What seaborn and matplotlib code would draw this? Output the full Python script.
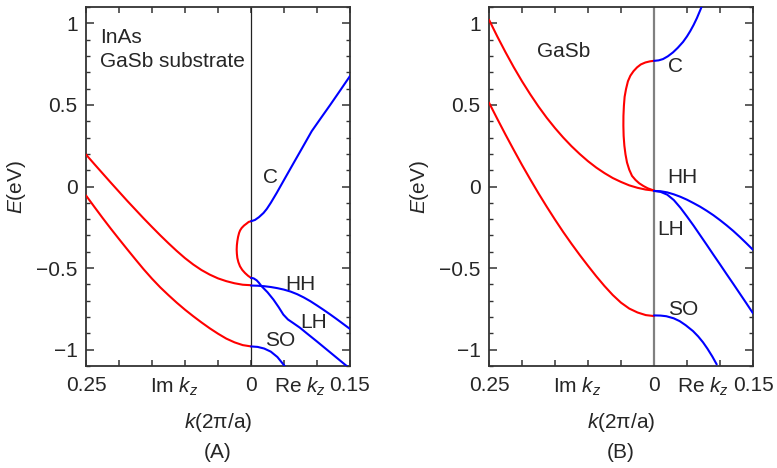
import matplotlib
matplotlib.use("Agg")
import matplotlib.pyplot as plt
import pandas as pd
import seaborn as sns
from matplotlib.ticker import FixedLocator, FixedFormatter, MultipleLocator

# ---------------- data: complex band structure E(k) ----------------
# k < 0 stands for Im k_z (evanescent branches), k > 0 for Re k_z.

# (A) InAs on GaSb substrate
a_im_upper_k = [-0.25, -0.2375, -0.225, -0.2125, -0.2, -0.1875, -0.175, -0.1625, -0.15, -0.1375,
                -0.125, -0.1125, -0.1, -0.0875, -0.075, -0.0625, -0.05, -0.0375, -0.025, -0.0125, 0.0]
a_im_upper_E = [0.196, 0.138, 0.081, 0.024, -0.032, -0.088, -0.142, -0.196, -0.248, -0.299,
                -0.348, -0.395, -0.439, -0.478, -0.512, -0.540, -0.563, -0.580, -0.593, -0.602, -0.605]

a_im_lower_k = [-0.25, -0.2375, -0.225, -0.2125, -0.2, -0.1875, -0.175, -0.1625, -0.15, -0.1375,
                -0.125, -0.1125, -0.1, -0.0875, -0.075, -0.0625, -0.05, -0.0375, -0.025, -0.0125, 0.0]
a_im_lower_E = [-0.055, -0.124, -0.192, -0.258, -0.322, -0.385, -0.447, -0.508, -0.565, -0.618,
                -0.666, -0.712, -0.755, -0.795, -0.833, -0.869, -0.902, -0.932, -0.955, -0.972, -0.98]

a_loop_k = [0.0, -0.0035, -0.0066, -0.0105, -0.0141, -0.0165, -0.018, -0.0196, -0.0207, -0.0214,
            -0.0217, -0.0214, -0.0207, -0.0191, -0.0167, -0.0133, -0.0091, -0.0045, 0.0]
a_loop_E = [-0.213, -0.217, -0.227, -0.239, -0.254, -0.269, -0.284, -0.309, -0.335, -0.36,
            -0.386, -0.412, -0.438, -0.464, -0.489, -0.511, -0.530, -0.547, -0.560]

a_c_k = [0.0, 0.006, 0.012, 0.019, 0.024, 0.03, 0.039, 0.05, 0.065, 0.077, 0.092, 0.106, 0.12, 0.135, 0.15]
a_c_E = [-0.213, -0.205, -0.188, -0.162, -0.137, -0.10, -0.039, 0.04, 0.147, 0.232, 0.339, 0.42, 0.50, 0.588, 0.677]

a_hh_k = [0.0, 0.01, 0.02, 0.03, 0.04, 0.05, 0.06, 0.07, 0.08, 0.09, 0.1, 0.11, 0.12, 0.13, 0.14, 0.15]
a_hh_E = [-0.607, -0.608, -0.611, -0.616, -0.623, -0.632, -0.644, -0.660, -0.680, -0.703,
          -0.729, -0.756, -0.784, -0.813, -0.843, -0.873]

a_lh_k = [0.0, 0.004, 0.0086, 0.012, 0.016, 0.025, 0.034, 0.042, 0.049, 0.056, 0.064,
          0.074, 0.084, 0.1, 0.115, 0.13, 0.145, 0.15]
a_lh_E = [-0.56, -0.563, -0.575, -0.59, -0.611, -0.648, -0.693, -0.74, -0.785, -0.815, -0.837,
          -0.865, -0.898, -0.95, -1.0, -1.05, -1.10, -1.117]

a_so_k = [0.0, 0.01, 0.02, 0.03, 0.04, 0.05, 0.056]
a_so_E = [-0.98, -0.983, -0.993, -1.012, -1.045, -1.095, -1.13]

# (B) bulk GaSb
b_im_upper_k = [-0.25, -0.2375, -0.225, -0.2125, -0.2, -0.1875, -0.175, -0.1625, -0.15, -0.1375,
                -0.125, -0.1125, -0.1, -0.0875, -0.075, -0.0625, -0.05, -0.0375, -0.025, -0.0125, 0.0]
b_im_upper_E = [1.022, 0.920, 0.823, 0.731, 0.645, 0.565, 0.490, 0.421, 0.358, 0.300,
                0.247, 0.199, 0.155, 0.116, 0.082, 0.052, 0.028, 0.007, -0.008, -0.019, -0.025]

b_im_lower_k = [-0.25, -0.2375, -0.225, -0.2125, -0.2, -0.1875, -0.175, -0.1625, -0.15, -0.1375,
                -0.125, -0.1125, -0.1, -0.0875, -0.075, -0.0625, -0.05, -0.0375, -0.025, -0.0125, 0.0]
b_im_lower_E = [0.514, 0.415, 0.318, 0.224, 0.132, 0.044, -0.042, -0.124, -0.203, -0.279,
                -0.351, -0.420, -0.486, -0.550, -0.610, -0.665, -0.712, -0.748, -0.772, -0.788, -0.794]

b_loop_k = [0.0, -0.006, -0.0131, -0.02, -0.0257, -0.031, -0.0358, -0.0395, -0.0424, -0.0445,
            -0.0456, -0.0463, -0.0464, -0.046, -0.0449, -0.0432, -0.0409, -0.0375, -0.0333,
            -0.028, -0.0225, -0.016, -0.0095, 0.0]
b_loop_E = [0.77, 0.767, 0.760, 0.748, 0.730, 0.707, 0.679, 0.645, 0.597, 0.55,
            0.495, 0.433, 0.372, 0.31, 0.250, 0.197, 0.147, 0.103, 0.065,
            0.04, 0.02, 0.003, -0.011, -0.025]

b_c_k = [0.0, 0.007, 0.0137, 0.021, 0.0288, 0.036, 0.044, 0.05, 0.055, 0.06, 0.065, 0.07, 0.075]
b_c_E = [0.77, 0.773, 0.781, 0.798, 0.822, 0.850, 0.886, 0.92, 0.953, 0.99, 1.032, 1.08, 1.13]

b_hh_k = [0.0, 0.01, 0.02, 0.03, 0.04, 0.05, 0.06, 0.07, 0.08, 0.09, 0.1, 0.11, 0.12, 0.13, 0.14, 0.15]
b_hh_E = [-0.027, -0.029, -0.036, -0.048, -0.063, -0.081, -0.102, -0.124, -0.149, -0.176,
          -0.206, -0.238, -0.272, -0.309, -0.348, -0.388]

b_lh_k = [0.0, 0.01, 0.02, 0.03, 0.04, 0.05, 0.06, 0.07, 0.08, 0.09, 0.1, 0.11, 0.12, 0.13, 0.14, 0.15]
b_lh_E = [-0.027, -0.033, -0.050, -0.083, -0.13, -0.184, -0.24, -0.299, -0.358, -0.418,
          -0.477, -0.537, -0.596, -0.656, -0.716, -0.777]

b_so_k = [0.0, 0.01, 0.0187, 0.03, 0.0389, 0.048, 0.0591, 0.067, 0.0743, 0.081, 0.0884, 0.095]
b_so_E = [-0.79, -0.791, -0.795, -0.808, -0.825, -0.85, -0.886, -0.919, -0.955, -0.994, -1.042, -1.09]

# axis ticks and labels
x_ticks = [-0.25, -0.2, -0.15, -0.1, -0.05, 0.0, 0.05, 0.1, 0.15]
x_ticklabels = ["0.25", "", "", "", "", "0", "", "", "0.15"]
x_side_pos = [-0.117, 0.074]
x_side_labels = ["Im $k_z$", "Re $k_z$"]
y_ticks = [-1.0, -0.5, 0.0, 0.5, 1.0]
y_ticklabels = ["\u22121", "\u22120.5", "0", "0.5", "1"]

# ---------------- style ----------------
sns.set_style("ticks")
plt.rcParams["font.family"] = ["Liberation Sans", "DejaVu Sans"]
plt.rcParams["mathtext.fontset"] = "custom"
plt.rcParams["mathtext.rm"] = "Liberation Sans"
plt.rcParams["mathtext.it"] = "Liberation Sans:italic"
plt.rcParams["mathtext.sf"] = "Liberation Sans"

RED = "#ff0000"
BLUE = "#0000ff"
FS = 15
W, H = 777, 468

fig = plt.figure(figsize=(W / 100, H / 100), dpi=100)


def band(ax, k, E, color):
    df = pd.DataFrame({"k": k, "E": E})
    line = sns.lineplot(data=df, x="k", y="E", sort=False, estimator=None,
                        color=color, lw=1.5, ax=ax, zorder=3)
    for ln in line.lines:
        ln.set_solid_joinstyle("round")
        ln.set_solid_capstyle("round")


def style_axes(ax, zero_color, zero_lw):
    ax.set_xlim(-0.25, 0.15)
    ax.set_ylim(-1.1, 1.1)
    ax.axvline(0, color=zero_color, lw=zero_lw, zorder=2)
    for sp in ax.spines.values():
        sp.set_visible(True)
        sp.set_color("#333333")
        sp.set_linewidth(1.3)
    ax.xaxis.set_major_locator(FixedLocator(x_ticks))
    ax.xaxis.set_major_formatter(FixedFormatter(x_ticklabels))
    ax.xaxis.set_minor_locator(FixedLocator(x_side_pos))
    ax.xaxis.set_minor_formatter(FixedFormatter(x_side_labels))
    ax.yaxis.set_major_locator(FixedLocator(y_ticks))
    ax.yaxis.set_major_formatter(FixedFormatter(y_ticklabels))
    ax.yaxis.set_minor_locator(MultipleLocator(0.1))
    ax.tick_params(axis="x", which="major", direction="in", top=True, bottom=True,
                   length=4.5, width=1.1, color="#333333", labelsize=FS, pad=7)
    ax.tick_params(axis="x", which="minor", length=0, labelsize=FS, pad=7)
    ax.tick_params(axis="y", which="major", direction="in", left=True, right=True,
                   length=5.5, width=1.1, color="#333333", labelsize=FS, pad=6)
    ax.tick_params(axis="y", which="minor", direction="in", left=True, right=True,
                   length=3.2, width=1.0, color="#333333")
    ax.set_xlabel("$k$(2\u03c0/a)", fontsize=FS, va="center")
    ax.xaxis.set_label_coords(0.5, -0.156)
    ax.set_ylabel("$E$(eV)", fontsize=FS, va="center")
    ax.yaxis.set_label_coords(-0.265, 0.5)


def panel_rect(left_px):
    return [left_px / W, (H - 366) / H, 264 / W, 359 / H]


# ---------------- (A) ----------------
axA = fig.add_axes(panel_rect(86))
for k, E in [(a_im_upper_k, a_im_upper_E), (a_im_lower_k, a_im_lower_E), (a_loop_k, a_loop_E)]:
    band(axA, k, E, RED)
for k, E in [(a_c_k, a_c_E), (a_hh_k, a_hh_E), (a_lh_k, a_lh_E), (a_so_k, a_so_E)]:
    band(axA, k, E, BLUE)
style_axes(axA, "#222222", 0.9)
axA.text(-0.229, 0.911, "InAs", fontsize=FS, ha="left", va="center")
axA.text(-0.229, 0.764, "GaSb substrate", fontsize=FS, ha="left", va="center")
axA.text(0.018, 0.058, "C", fontsize=FS, ha="left", va="center")
axA.text(0.0515, -0.598, "HH", fontsize=FS, ha="left", va="center")
axA.text(0.0742, -0.831, "LH", fontsize=FS, ha="left", va="center")
axA.text(0.0212, -0.942, "SO", fontsize=FS, ha="left", va="center")

# ---------------- (B) ----------------
axB = fig.add_axes(panel_rect(489))
for k, E in [(b_im_upper_k, b_im_upper_E), (b_im_lower_k, b_im_lower_E), (b_loop_k, b_loop_E)]:
    band(axB, k, E, RED)
for k, E in [(b_c_k, b_c_E), (b_hh_k, b_hh_E), (b_lh_k, b_lh_E), (b_so_k, b_so_E)]:
    band(axB, k, E, BLUE)
style_axes(axB, "#808080", 1.6)
axB.text(-0.178, 0.827, "GaSb", fontsize=FS, ha="left", va="center")
axB.text(0.0208, 0.735, "C", fontsize=FS, ha="left", va="center")
axB.text(0.0208, 0.054, "HH", fontsize=FS, ha="left", va="center")
axB.text(0.0056, -0.265, "LH", fontsize=FS, ha="left", va="center")
axB.text(0.0208, -0.753, "SO", fontsize=FS, ha="left", va="center")

# panel captions
fig.text(218 / W, 1 - 453 / H, "(A)", fontsize=FS, ha="center", va="center")
fig.text(621 / W, 1 - 453 / H, "(B)", fontsize=FS, ha="center", va="center")

fig.savefig("out.png", dpi=100)
